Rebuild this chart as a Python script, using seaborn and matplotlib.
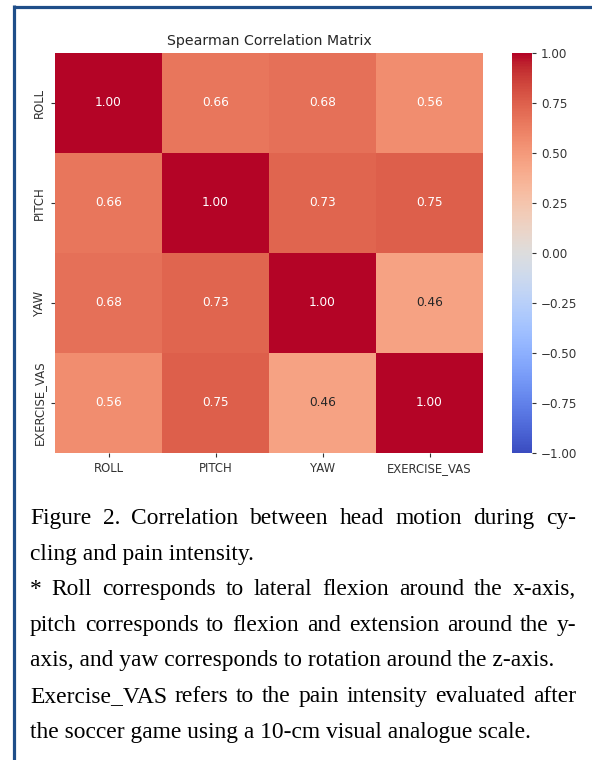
import matplotlib
import matplotlib.pyplot as plt
import numpy as np
import pandas as pd
import seaborn as sns
from matplotlib.lines import Line2D

matplotlib.use("Agg")

# ---------------------------------------------------------------------------
# Data
# ---------------------------------------------------------------------------
LABELS       = ["ROLL", "PITCH", "YAW", "EXERCISE_VAS"]
ROLL_ROW     = [1.00, 0.66, 0.68, 0.56]
PITCH_ROW    = [0.66, 1.00, 0.73, 0.75]
YAW_ROW      = [0.68, 0.73, 1.00, 0.46]
VAS_ROW      = [0.56, 0.75, 0.46, 1.00]
CBAR_TICKS   = [-1.00, -0.75, -0.50, -0.25, 0.00, 0.25, 0.50, 0.75, 1.00]

TITLE = "Spearman Correlation Matrix"

# caption lines: (text, justified?)
CAPTION = [
    ("Figure 2. Correlation between head motion during cy-", True),
    ("cling and pain intensity.", False),
    ("* Roll corresponds to lateral flexion around the x-axis,", True),
    ("pitch corresponds to flexion and extension around the y-", True),
    ("axis, and yaw corresponds to rotation around the z-axis.", False),
    ("Exercise_VAS refers to the pain intensity evaluated after", True),
    ("the soccer game using a 10-cm visual analogue scale.", False),
]

FRAME_COLOR = "#1f4e89"
W, H = 592, 760


def px(x, y):
    """pixel (from top-left) -> figure fraction"""
    return x / W, 1 - y / H


def draw_caption(fig, lines, left=30, right=576, top=524, step=35.6, size=16.9):
    renderer = fig.canvas.get_renderer()
    x0, _ = px(left, 0)
    x1, _ = px(right, 0)
    for i, (line, justify) in enumerate(lines):
        _, y = px(0, top + i * step)
        if not justify:
            fig.text(x0, y, line, ha="left", va="baseline", fontsize=size,
                     family="Liberation Serif", color="black")
            continue
        words = line.split(" ")
        texts = [fig.text(0, y, w, ha="left", va="baseline", fontsize=size,
                          family="Liberation Serif", color="black") for w in words]
        widths = [t.get_window_extent(renderer).width / W for t in texts]
        gap = (x1 - x0 - sum(widths)) / (len(words) - 1)
        x = x0
        for t, w in zip(texts, widths):
            t.set_x(x)
            x += w + gap


def main():
    sns.set_theme(style="white")
    plt.rcParams["font.family"] = ["DejaVu Sans"]

    corr = pd.DataFrame([ROLL_ROW, PITCH_ROW, YAW_ROW, VAS_ROW],
                        index=LABELS, columns=LABELS)

    fig = plt.figure(figsize=(W / 100, H / 100), dpi=100)
    ax = fig.add_axes([55 / W, 1 - 453 / H, 428 / W, 400 / H])
    cax = fig.add_axes([512 / W, 1 - 453 / H, 20 / W, 400 / H])

    sns.heatmap(corr, ax=ax, cbar_ax=cax, cmap="coolwarm", vmin=-1, vmax=1,
                annot=True, fmt=".2f", annot_kws={"fontsize": 8.7})
    ax.set_title(TITLE, fontsize=10.2, color="#262626", pad=6)
    ax.tick_params(axis="both", labelsize=8.4, length=3, width=0.8,
                   colors="#333333", bottom=True, left=True)
    cax.set_yticks(CBAR_TICKS)
    cax.set_yticklabels([f"{t:.2f}".replace("-", "\u2212") for t in CBAR_TICKS])
    cax.tick_params(labelsize=8.6, length=3, width=0.8, colors="#333333", right=True)
    for s in cax.spines.values():
        s.set_visible(False)

    # frame lines (top and left)
    fig.add_artist(Line2D([13.5 / W, 1], [1 - 6.5 / H] * 2, transform=fig.transFigure,
                          color=FRAME_COLOR, lw=2.3, solid_capstyle="butt"))
    fig.add_artist(Line2D([13.5 / W] * 2, [1 - 5.3 / H, 0], transform=fig.transFigure,
                          color=FRAME_COLOR, lw=2.3, solid_capstyle="butt"))

    draw_caption(fig, CAPTION)

    fig.savefig("out.png", dpi=100)
    plt.close(fig)


if __name__ == "__main__":
    main()
